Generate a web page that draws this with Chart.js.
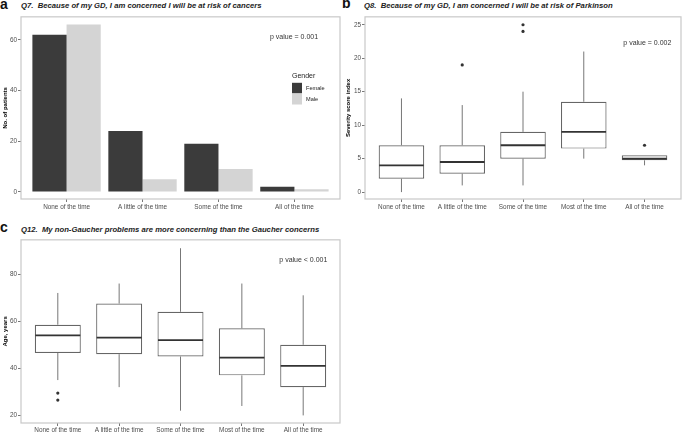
<!DOCTYPE html>
<html>
<head>
<meta charset="utf-8">
<script src="https://cdn.jsdelivr.net/npm/chart.js@4.4.1/dist/chart.umd.min.js"></script>
<style>
  html, body { margin: 0; padding: 0; background: #fff; }
  #fig { position: relative; width: 685px; height: 432px; overflow: hidden; font-family: 'Liberation Sans', Arial, sans-serif; }
  #fig canvas { position: absolute; }
  .lt { position: absolute; font-weight: bold; font-size: 14px; line-height: 14px; color: #111; }
  .tt { position: absolute; font-weight: bold; font-style: italic; font-size: 7.7px; line-height: 9px; color: #222; white-space: nowrap; }
</style>
</head>
<body>
<div id="fig">
  <canvas id="chA" width="345" height="200" style="left:0;top:12px"></canvas>
  <canvas id="chB" width="345" height="200" style="left:340px;top:12px"></canvas>
  <canvas id="chC" width="345" height="197" style="left:0;top:235px"></canvas>

  <div class="lt" style="left:0;top:-3px">a</div>
  <div class="tt" style="left:21px;top:1px">Q7.&nbsp; Because of my GD, I am concerned I will be at risk of cancers</div>
  <div class="lt" style="left:342px;top:-4px">b</div>
  <div class="tt" style="left:364px;top:1px">Q8.&nbsp; Because of my GD, I am concerned I will be at risk of Parkinson</div>
  <div class="lt" style="left:0;top:220px">c</div>
  <div class="tt" style="left:21px;top:225px">Q12.&nbsp; My non-Gaucher problems are more concerning than the Gaucher concerns</div>
</div>

<script>
// panel a: Q7 counts by gender
const categoriesA = ['None of the time', 'A little of the time', 'Some of the time', 'All of the time'];
const femaleA = [62, 24, 19, 2];
const maleA = [66, 5, 9, 1];
const ticksA = [0, 20, 40, 60];

// panel b: Q8 severity score index
const categoriesB = ['None of the time', 'A little of the time', 'Some of the time', 'Most of the time', 'All of the time'];
const lowB = [0, 1, 1, 5, 4];
const q1B = [2, 2.75, 5, 6.5, 4.75];
const medB = [4, 4.5, 7, 9, 5];
const q3B = [7, 7, 9, 13.5, 5.5];
const highB = [14, 13, 15, 21, 5.5];
const outliersB = [[], [19], [24, 25], [], [7]];
const ticksB = [0, 5, 10, 15, 20, 25];

// panel c: Q12 age
const categoriesC = ['None of the time', 'A little of the time', 'Some of the time', 'Most of the time', 'All of the time'];
const lowC = [35, 32, 22, 24, 20];
const q1C = [46.5, 46, 45, 37, 32];
const medC = [54, 53, 52, 44.5, 41];
const q3C = [58.5, 67.5, 64, 57, 50];
const highC = [72, 76, 91, 76, 71];
const outliersC = [[29.5, 26.5], [], [], [], []];
const ticksC = [20, 40, 60, 80];

Chart.defaults.font.family = "'Liberation Sans', Arial, sans-serif";
Chart.defaults.animation = false;

const TICK_GREY = '#4d4d4d';

function yAxis(min, max, ticks, title, titlePad, width) {
  return {
    type: 'linear', min, max,
    afterBuildTicks: s => { s.ticks = ticks.map(v => ({ value: v })); },
    afterFit: s => { s.width = width; },
    grid: { display: true, drawOnChartArea: false, drawTicks: true, tickLength: 3, color: '#555', lineWidth: 0.8 },
    border: { display: false },
    ticks: { font: { size: 6.4 }, color: TICK_GREY, padding: 1 },
    title: { display: true, text: title, color: '#000', font: { size: 6, weight: 'bold' }, padding: { top: titlePad, bottom: 0 } }
  };
}

function xAxis(cats, height, pad) {
  return {
    type: 'linear', min: 0.4, max: cats.length + 0.6, offset: false,
    afterBuildTicks: s => { s.ticks = cats.map((c, i) => ({ value: i + 1 })); },
    afterFit: s => { s.height = height; },
    grid: { display: true, offset: false, drawOnChartArea: false, drawTicks: true, tickLength: 3, color: '#555', lineWidth: 0.8 },
    border: { display: false },
    ticks: { font: { size: 6.4 }, color: TICK_GREY, padding: pad, maxRotation: 0, autoSkip: false, callback: v => cats[v - 1] }
  };
}

const framePlugin = {
  id: 'frame',
  afterDatasetsDraw(chart) {
    const a = chart.chartArea, ctx = chart.ctx;
    ctx.save();
    ctx.strokeStyle = '#c8c8c8';
    ctx.lineWidth = 1.2;
    ctx.strokeRect(a.left, a.top, a.right - a.left, a.bottom - a.top);
    ctx.restore();
  }
};

const notePlugin = {
  id: 'note',
  afterDraw(chart, args, opts) {
    const ctx = chart.ctx;
    ctx.save();
    ctx.font = "7px 'Liberation Sans', Arial, sans-serif";
    ctx.fillStyle = '#333';
    ctx.textBaseline = 'middle';
    ctx.fillText(opts.text, opts.x, opts.y);
    ctx.restore();
  }
};

const genderLegend = {
  id: 'genderLegend',
  afterDraw(chart) {
    const ctx = chart.ctx;
    const x = 292, y = 64;
    ctx.save();
    ctx.textBaseline = 'middle';
    ctx.fillStyle = '#222';
    ctx.font = "7px 'Liberation Sans', Arial, sans-serif";
    ctx.fillText('Gender', x, y);
    ctx.font = "5.6px 'Liberation Sans', Arial, sans-serif";
    chart.data.datasets.forEach((ds, i) => {
      const top = 70.8 + i * 11.2;
      ctx.fillStyle = ds.backgroundColor;
      ctx.fillRect(x, top, 10, 10.5);
      ctx.fillStyle = '#222';
      ctx.fillText(ds.label, x + 14, top + 5.3);
    });
    ctx.restore();
  }
};

function boxPlugin(low, q1, med, q3, high) {
  return {
    id: 'boxes',
    beforeDatasetsDraw(chart) {
      const ctx = chart.ctx, xs = chart.scales.x, ys = chart.scales.y;
      ctx.save();
      ctx.strokeStyle = '#777';
      ctx.lineWidth = 1;
      low.forEach((lo, i) => {
        const x = xs.getPixelForValue(i + 1);
        ctx.beginPath();
        ctx.moveTo(x, ys.getPixelForValue(q3[i]));
        ctx.lineTo(x, ys.getPixelForValue(high[i]));
        ctx.moveTo(x, ys.getPixelForValue(q1[i]));
        ctx.lineTo(x, ys.getPixelForValue(lo));
        ctx.stroke();
      });
      ctx.restore();
    },
    afterDatasetsDraw(chart) {
      const ctx = chart.ctx, ys = chart.scales.y;
      const bars = chart.getDatasetMeta(0).data;
      ctx.save();
      ctx.strokeStyle = '#333';
      ctx.lineWidth = 1.8;
      med.forEach((m, i) => {
        const b = bars[i], y = ys.getPixelForValue(m);
        ctx.beginPath();
        ctx.moveTo(b.x - b.width / 2 + 0.5, y);
        ctx.lineTo(b.x + b.width / 2 - 0.5, y);
        ctx.stroke();
      });
      ctx.restore();
    }
  };
}

function boxChart(id, cats, low, q1, med, q3, high, outliers, yMin, yMax, yTicks, yTitle, titlePad, yWidth, padTop, padRight, xHeight, xPad, note) {
  const points = [];
  outliers.forEach((list, i) => list.forEach(v => points.push({ x: i + 1, y: v })));
  return new Chart(document.getElementById(id), {
    type: 'bar',
    data: {
      datasets: [
        {
          label: 'box',
          data: q1.map((v, i) => ({ x: i + 1, y: [v, q3[i]] })),
          backgroundColor: '#fff',
          borderColor: '#666',
          borderWidth: 1.2,
          borderSkipped: false,
          categoryPercentage: 0.75,
          barPercentage: 1
        },
        {
          type: 'scatter',
          label: 'outliers',
          data: points,
          pointRadius: 1.6,
          backgroundColor: '#333',
          borderWidth: 0
        }
      ]
    },
    options: {
      responsive: false,
      layout: { padding: { top: padTop, right: padRight, left: 0, bottom: 0 } },
      plugins: { legend: { display: false }, tooltip: { enabled: false }, note },
      scales: { x: xAxis(cats, xHeight, xPad), y: yAxis(yMin, yMax, yTicks, yTitle, titlePad, yWidth) }
    },
    plugins: [boxPlugin(low, q1, med, q3, high), framePlugin, notePlugin]
  });
}

// panel a
new Chart(document.getElementById('chA'), {
  type: 'bar',
  data: {
    datasets: [
      { label: 'Female', data: femaleA.map((v, i) => ({ x: i + 1, y: v })), backgroundColor: '#3b3b3b', categoryPercentage: 0.9, barPercentage: 1 },
      { label: 'Male', data: maleA.map((v, i) => ({ x: i + 1, y: v })), backgroundColor: '#d4d4d4', categoryPercentage: 0.9, barPercentage: 1 }
    ]
  },
  options: {
    responsive: false,
    layout: { padding: { top: 2, right: 5, left: 0, bottom: 0 } },
    plugins: { legend: { display: false }, tooltip: { enabled: false }, note: { text: 'p value = 0.001', x: 270, y: 25.3 } },
    scales: { x: xAxis(categoriesA, 13, 1), y: yAxis(-2.84, 69.06, ticksA, 'No. of patients', 1.7, 21) }
  },
  plugins: [framePlugin, notePlugin, genderLegend]
});

// panel b
boxChart('chB', categoriesB, lowB, q1B, medB, q3B, highB, outliersB,
  -1.03, 26.18, ticksB, 'Severity score index', 4.7, 25, 2, 2, 13, 1,
  { text: 'p value = 0.002', x: 283.3, y: 30.7 });

// panel c
boxChart('chC', categoriesC, lowC, q1C, medC, q3C, highC, outliersC,
  16.77, 94.56, ticksC, 'Age, years', 1.4, 21, 2, 5, 9, 0,
  { text: 'p value < 0.001', x: 279.3, y: 25.3 });
</script>
</body>
</html>
